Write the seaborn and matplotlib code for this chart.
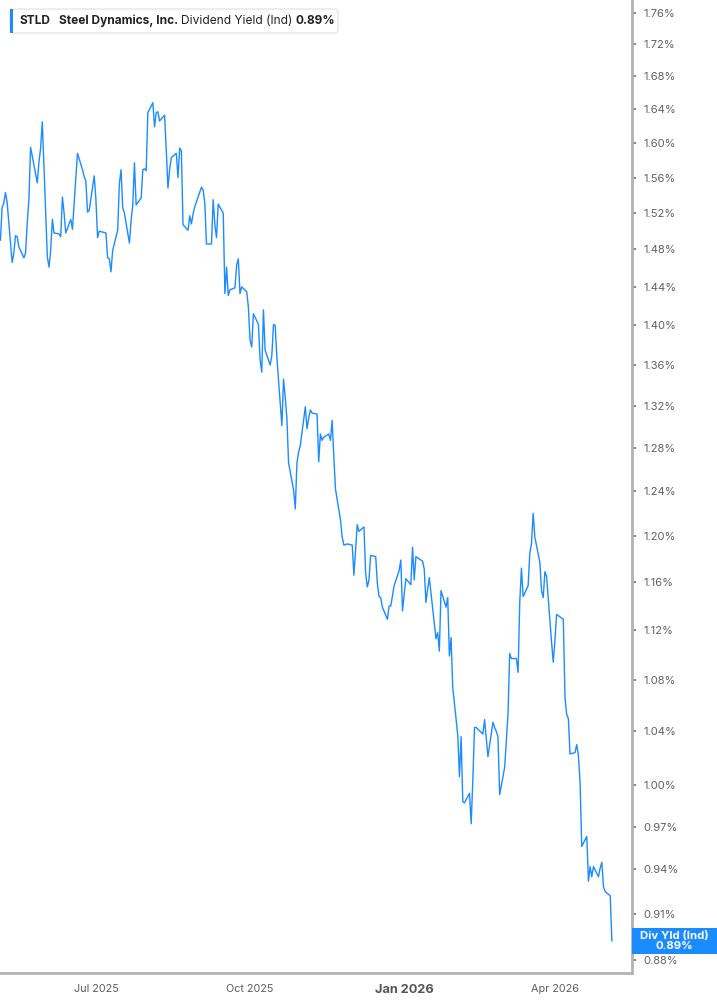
import numpy as np
import pandas as pd
import matplotlib
matplotlib.use("Agg")
import matplotlib.pyplot as plt
import matplotlib.patches as mpatches
import seaborn as sns

# Daily dividend yield (%), one value per trading day
div_yield = [
    1.490, 1.526, 1.531, 1.543, 1.532, 1.466, 1.476, 1.495, 1.494, 1.483,
    1.471, 1.476, 1.509, 1.535, 1.595, 1.554, 1.578, 1.594, 1.625, 1.472,
    1.461, 1.479, 1.513, 1.498, 1.497, 1.494, 1.538, 1.520, 1.498, 1.513,
    1.502, 1.531, 1.588, 1.569, 1.561, 1.556, 1.521, 1.523, 1.562, 1.535,
    1.493, 1.500, 1.498, 1.471, 1.470, 1.456, 1.479, 1.501, 1.553, 1.569,
    1.526, 1.520, 1.487, 1.512, 1.529, 1.577, 1.529, 1.537, 1.569, 1.570,
    1.568, 1.636, 1.648, 1.619, 1.636, 1.637, 1.626, 1.633, 1.592, 1.548,
    1.569, 1.583, 1.588, 1.560, 1.594, 1.591, 1.507, 1.501, 1.517, 1.508,
    1.519, 1.527, 1.549, 1.546, 1.531, 1.486, 1.486, 1.535, 1.507, 1.493,
    1.530, 1.520, 1.433, 1.461, 1.431, 1.437, 1.439, 1.463, 1.470, 1.433,
    1.440, 1.435, 1.419, 1.385, 1.378, 1.412, 1.401, 1.365, 1.353, 1.416,
    1.375, 1.360, 1.369, 1.401, 1.400, 1.368, 1.301, 1.346, 1.328, 1.308,
    1.266, 1.241, 1.224, 1.266, 1.276, 1.282, 1.319, 1.298, 1.308, 1.316,
    1.313, 1.312, 1.267, 1.293, 1.287, 1.290, 1.293, 1.287, 1.306, 1.272,
    1.242, 1.214, 1.199, 1.192, 1.193, 1.192, 1.166, 1.188, 1.210, 1.204,
    1.208, 1.168, 1.156, 1.162, 1.183, 1.182, 1.159, 1.148, 1.147, 1.139,
    1.129, 1.140, 1.140, 1.157, 1.170, 1.179, 1.136, 1.163, 1.158, 1.190,
    1.162, 1.182, 1.181, 1.178, 1.171, 1.143, 1.154, 1.164, 1.113, 1.118,
    1.103, 1.153, 1.139, 1.147, 1.099, 1.114, 1.074, 1.037, 1.006, 1.036,
    0.988, 0.987, 0.994, 0.972, 1.004, 1.043, 1.043, 1.038, 1.049, 1.035,
    1.021, 1.047, 1.043, 1.040, 1.036, 0.993, 1.013, 1.034, 1.054, 1.101,
    1.097, 1.097, 1.086, 1.143, 1.172, 1.148, 1.157, 1.185, 1.193, 1.220,
    1.199, 1.177, 1.153, 1.147, 1.169, 1.165, 1.110, 1.094, 1.112, 1.133,
    1.129, 1.066, 1.053, 1.050, 1.023, 1.024, 1.030, 1.022, 1.002, 0.956,
    0.963, 0.932, 0.942, 0.935, 0.942, 0.935, 0.941, 0.945, 0.928, 0.925,
    0.922, 0.892,
]
start_date = "2025-05-05"
# market holidays in the period (no trading)
market_holidays = ["2025-05-26", "2025-06-19", "2025-07-04", "2025-09-01", "2025-11-27",
                   "2025-12-25", "2026-01-01", "2026-01-19", "2026-02-16", "2026-04-03"]

y_ticks = [0.88, 0.91, 0.94, 0.97, 1.00, 1.04, 1.08, 1.12, 1.16, 1.20, 1.24, 1.28,
           1.32, 1.36, 1.40, 1.44, 1.48, 1.52, 1.56, 1.60, 1.64, 1.68, 1.72, 1.76]
x_ticks = ["2025-07-01", "2025-10-01", "2026-01-01", "2026-04-01"]
x_labels = ["Jul 2025", "Oct 2025", "Jan 2026", "Apr 2026"]

ticker = "STLD"
company = "Steel Dynamics, Inc."
metric = "Dividend Yield (Ind)"
tag = "Div Yld (Ind)"

dates = pd.bdate_range(start_date, periods=len(div_yield), freq="C", holidays=market_holidays)
df = pd.DataFrame({"date": dates, "yield": div_yield})

sns.set_style("white")
plt.rcParams["font.family"] = ["Inter", "DejaVu Sans"]

blue = "#1a8cff"
grey_axis = "#b3b3b3"
text_col = "#5f5f5f"

W, H = 717, 1005
fig = plt.figure(figsize=(W / 100, H / 100), dpi=100)
ax = fig.add_axes([0, 32 / H, 632 / W, 1 - 32 / H])

sns.lineplot(data=df, x="date", y="yield", ax=ax, color=blue, linewidth=1.0)

ax.set_yscale("log")
ax.set_ylim(0.8714, 1.7766)
ax.set_xlim(pd.Timestamp("2025-05-04 18:00"), pd.Timestamp("2026-05-17"))

ax.yaxis.tick_right()
ax.set_yticks(y_ticks)
ax.set_yticklabels([f"{v:.2f}%" for v in y_ticks])
ax.yaxis.set_minor_locator(matplotlib.ticker.NullLocator())
ax.tick_params(axis="y", which="major", length=3, width=1.2, color="#707070",
               pad=5, labelsize=8, labelcolor=text_col, right=True, left=False)

ax.set_xticks(pd.to_datetime(x_ticks))
ax.set_xticklabels(x_labels)
ax.tick_params(axis="x", length=5, width=1, color=grey_axis, pad=3,
               labelsize=7.8, labelcolor=text_col)
for lbl in ax.get_xticklabels():
    if lbl.get_text().startswith("Jan"):
        lbl.set_fontweight("bold")
        lbl.set_fontsize(9.2)
        lbl.set_color("#555555")

ax.set_xlabel("")
ax.set_ylabel("")
for side in ["top", "left"]:
    ax.spines[side].set_visible(False)
for side in ["right", "bottom"]:
    ax.spines[side].set_color(grey_axis)
    ax.spines[side].set_linewidth(2)
ax.grid(False)

# current value tag on the right axis
last = div_yield[-1]
half = np.exp(13 / 1366)
tag_box = mpatches.Rectangle((1.0, last / half), (W - 632) / 632, last * half - last / half,
                             transform=ax.get_yaxis_transform(), facecolor=blue,
                             edgecolor="none", clip_on=False, zorder=5)
ax.add_patch(tag_box)
ax.text(1.0 + (W - 632) / 2 / 632, last, f"{tag}\n{last:.2f}%",
        transform=ax.get_yaxis_transform(), ha="center", va="center",
        color="white", fontsize=8.2, fontweight="bold", linespacing=0.95, zorder=6)

# header legend box
legend_box = mpatches.FancyBboxPatch((10 / W, 1 - 33 / H), 328 / W, 24 / H,
                                     boxstyle="round,pad=0,rounding_size=0.004",
                                     transform=fig.transFigure, facecolor="white",
                                     edgecolor="#e6e6e6", linewidth=1, zorder=10)
fig.patches.append(legend_box)
fig.patches.append(mpatches.Rectangle((10 / W, 1 - 33 / H), 3 / W, 24 / H,
                                      transform=fig.transFigure, facecolor=blue,
                                      edgecolor="none", zorder=11))
ty = 1 - 21 / H
fig.text(20 / W, ty, ticker, fontsize=8.6, fontweight="bold", color="#222222", va="center", zorder=12)
fig.text(59 / W, ty, company, fontsize=8.6, fontweight="bold", color="#222222", va="center", zorder=12)
fig.text(181 / W, ty, metric, fontsize=8.6, color="#222222", va="center", zorder=12)
fig.text(296 / W, ty, f"{last:.2f}%", fontsize=8.6, fontweight="bold", color="#222222", va="center", zorder=12)

fig.savefig("out.png", dpi=100)
